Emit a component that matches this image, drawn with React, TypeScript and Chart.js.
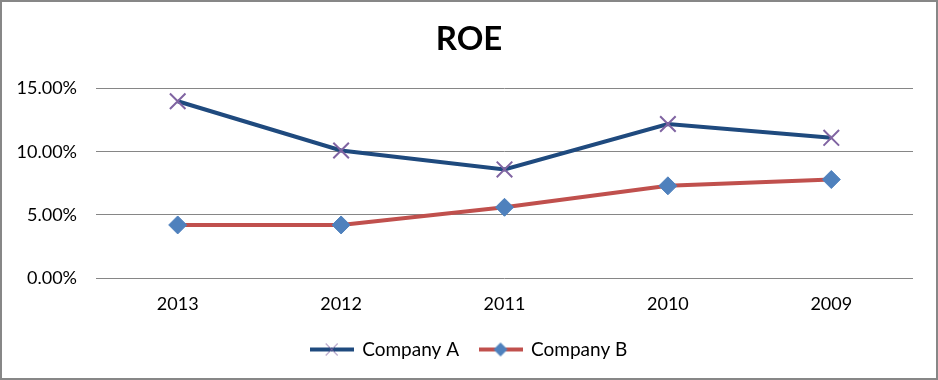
import React, { useEffect, useRef } from "react";
import { Chart, registerables } from "chart.js";

Chart.register(...registerables);

const categories = ["2013", "2012", "2011", "2010", "2009"];
const companyA = [0.14, 0.101, 0.086, 0.122, 0.111];
const companyB = [0.042, 0.042, 0.056, 0.073, 0.078];
const seriesNames = ["Company A", "Company B"];
const yTicks = [0, 0.05, 0.1, 0.15];

const FONT = "Lato, 'Open Sans', sans-serif";
const COLOR_A = "#1F4A7E";
const COLOR_B = "#C0504D";
const MARK_A = "#8064A2";
const MARK_B = "#4F81BD";

function legendIcon(lineColor: string, lineWidth: number, kind: "cross" | "diamond") {
  const c = document.createElement("canvas");
  c.width = 44;
  c.height = 16;
  const ctx = c.getContext("2d")!;
  ctx.strokeStyle = lineColor;
  ctx.lineWidth = lineWidth;
  ctx.beginPath();
  ctx.moveTo(0, 8);
  ctx.lineTo(44, 8);
  ctx.stroke();
  if (kind === "cross") {
    ctx.strokeStyle = MARK_A;
    ctx.lineWidth = 1;
    ctx.beginPath();
    ctx.moveTo(16, 2);
    ctx.lineTo(28, 14);
    ctx.moveTo(28, 2);
    ctx.lineTo(16, 14);
    ctx.stroke();
  } else {
    ctx.fillStyle = MARK_B;
    ctx.beginPath();
    ctx.moveTo(22, 1);
    ctx.lineTo(29, 8);
    ctx.lineTo(22, 15);
    ctx.lineTo(15, 8);
    ctx.closePath();
    ctx.fill();
  }
  return c;
}

export default function App() {
  const ref = useRef<HTMLCanvasElement | null>(null);

  useEffect(() => {
    if (!ref.current) return;
    const icons = [legendIcon(COLOR_A, 4, "cross"), legendIcon(COLOR_B, 4, "diamond")];
    const chart = new Chart(ref.current, {
      type: "line",
      data: {
        labels: categories,
        datasets: [
          {
            label: seriesNames[0],
            data: companyA,
            borderColor: COLOR_A,
            borderWidth: 4,
            pointStyle: "crossRot",
            pointRadius: 11,
            pointBorderColor: MARK_A,
            pointBackgroundColor: MARK_A,
            pointBorderWidth: 2,
            tension: 0,
          },
          {
            label: seriesNames[1],
            data: companyB,
            borderColor: COLOR_B,
            borderWidth: 4,
            pointStyle: "rectRot",
            pointRadius: 9,
            pointBorderColor: MARK_B,
            pointBackgroundColor: MARK_B,
            pointBorderWidth: 1,
            tension: 0,
          },
        ],
      },
      options: {
        animation: false,
        responsive: false,
        maintainAspectRatio: false,
        layout: { padding: { left: 0, right: 0, top: 0, bottom: 9 } },
        plugins: {
          title: {
            display: true,
            text: "ROE",
            color: "#000",
            font: { family: FONT, size: 33, weight: "bold" },
            padding: { top: 18, bottom: 29 },
          },
          legend: {
            position: "bottom",
            labels: {
              usePointStyle: true,
              pointStyleWidth: 42,
              color: "#000",
              font: { family: FONT, size: 19 },
              padding: 20.5,
              generateLabels: (ch: any) => {
                const items = Chart.defaults.plugins.legend.labels.generateLabels(ch);
                return items.map((it: any, i: number) => ({ ...it, pointStyle: icons[i], lineWidth: 0 }));
              },
            },
          },
          tooltip: { enabled: false },
        },
        scales: {
          x: {
            offset: true,
            afterFit: (s: any) => {
              s.height = 41.5;
            },
            grid: { display: false, drawTicks: false },
            border: { display: false },
            ticks: { color: "#000", font: { family: FONT, size: 18 }, padding: 15 },
          },
          y: {
            min: 0,
            max: 0.15,
            afterFit: (s: any) => {
              s.width = 94;
            },
            afterBuildTicks: (s: any) => {
              s.ticks = yTicks.map((v) => ({ value: v }));
            },
            grid: { color: "#868686", lineWidth: 1, drawTicks: false },
            border: { display: false },
            ticks: {
              color: "#000",
              font: { family: FONT, size: 18 },
              padding: 19,
              callback: (v: any) => (Number(v) * 100).toFixed(2) + "%",
            },
          },
          yRight: {
            position: "right",
            afterFit: (s: any) => {
              s.width = 23;
            },
            grid: { display: false, drawTicks: false },
            border: { display: false },
            ticks: { display: false },
          },
        },
      },
    });
    return () => chart.destroy();
  }, []);

  return (
    <div
      style={{
        position: "fixed",
        left: 0,
        top: 0,
        width: 938,
        height: 380,
        boxSizing: "border-box",
        border: "2px solid #878787",
        background: "#fff",
      }}
    >
      <canvas ref={ref} width={934} height={376} style={{ display: "block" }} />
    </div>
  );
}
